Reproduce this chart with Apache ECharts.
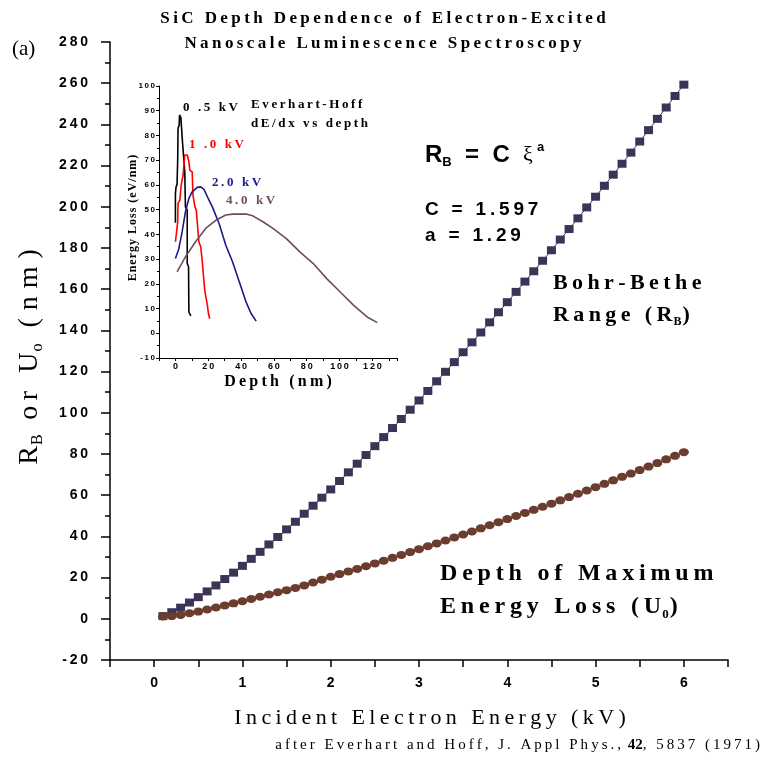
<!DOCTYPE html>
<html>
<head>
<meta charset="utf-8">
<script src="https://cdn.jsdelivr.net/npm/echarts@6/dist/echarts.min.js"></script>
<style>
html, body { margin: 0; padding: 0; background: #fff; }
#chart { width: 762px; height: 759px; }
</style>
</head>
<body>
<div id="chart"></div>
<script>
// main plot: incident energy (kV)
var energy = [0.1, 0.2, 0.3, 0.4, 0.5, 0.6, 0.7, 0.8, 0.9, 1.0,
	1.1, 1.2, 1.3, 1.4, 1.5, 1.6, 1.7, 1.8, 1.9, 2.0,
	2.1, 2.2, 2.3, 2.4, 2.5, 2.6, 2.7, 2.8, 2.9, 3.0,
	3.1, 3.2, 3.3, 3.4, 3.5, 3.6, 3.7, 3.8, 3.9, 4.0,
	4.1, 4.2, 4.3, 4.4, 4.5, 4.6, 4.7, 4.8, 4.9, 5.0,
	5.1, 5.2, 5.3, 5.4, 5.5, 5.6, 5.7, 5.8, 5.9, 6.0];
// Bohr-Bethe range R_B (nm)
var rangeRB = [1.3, 3.2, 5.4, 7.9, 10.5, 13.3, 16.2, 19.3, 22.4, 25.7,
	29.1, 32.5, 36.1, 39.7, 43.4, 47.1, 51.0, 54.9, 58.8, 62.8,
	66.9, 71.1, 75.3, 79.5, 83.8, 88.2, 92.6, 97.0, 101.5, 106.0,
	110.6, 115.3, 119.9, 124.6, 129.4, 134.2, 139.0, 143.9, 148.8, 153.7,
	158.7, 163.7, 168.7, 173.8, 178.9, 184.1, 189.2, 194.4, 199.7, 204.9,
	210.2, 215.6, 220.9, 226.3, 231.7, 237.2, 242.7, 248.2, 253.8, 259.3];
// depth of maximum energy loss U0 (nm)
var depthU0 = [1.1, 1.3, 1.9, 2.7, 3.5, 4.5, 5.5, 6.5, 7.5, 8.5,
	9.6, 10.7, 11.8, 12.9, 13.9, 15.0, 16.2, 17.6, 19.0, 20.4,
	21.7, 23.0, 24.2, 25.5, 26.9, 28.2, 29.6, 31.0, 32.4, 33.8,
	35.2, 36.6, 38.0, 39.5, 40.9, 42.4, 43.9, 45.4, 46.9, 48.4,
	49.9, 51.4, 52.9, 54.4, 55.9, 57.5, 59.1, 60.7, 62.3, 63.9,
	65.5, 67.2, 68.9, 70.5, 72.2, 73.9, 75.6, 77.4, 79.1, 80.9];

// inset: dE/dx vs depth, [depth (nm), energy loss (eV/nm)]
var curve05 = [[0, 44.7], [0, 56.5], [0.4, 59.2], [1.0, 60.2], [1.4, 70.7], [1.6, 82.9], [2.3, 84.2],
	[2.5, 88.3], [3.1, 88.5], [3.3, 87.2], [3.9, 86.9], [4.3, 77.5], [5.1, 76.8], [5.7, 65.3],
	[6.1, 51.1], [7.2, 49.8], [7.2, 28.2], [8.0, 26.9], [8.2, 8.6], [8.8, 8.0], [9.4, 7.0]];
var curve10 = [[0, 37.0], [0.6, 40.4], [1.4, 45.1], [1.6, 52.5], [2.7, 53.8], [3.5, 59.9], [4.7, 64.0],
	[5.7, 72.1], [7.2, 72.1], [8.2, 69.4], [8.8, 66.0], [10.2, 65.3], [10.7, 55.9], [11.9, 51.1],
	[12.7, 49.8], [13.3, 45.1], [14.3, 37.0], [15.4, 35.0], [16.4, 28.9], [17.4, 20.8], [18.0, 16.7],
	[19.5, 11.3], [20.1, 8.0], [20.9, 5.9]];
var curve20 = [[0, 30.2], [2.0, 34.0], [4.1, 41.0], [6.1, 49.1], [8.2, 54.5], [10.2, 57.2], [13.3, 59.0],
	[15.4, 59.2], [17.4, 58.2], [19.5, 55.2], [22.5, 51.1], [26.6, 44.4], [30.7, 35.6], [34.8, 28.9],
	[38.9, 20.8], [43.0, 12.7], [46.1, 8.0], [49.2, 4.9]];
var curve40 = [[1.0, 24.8], [6.1, 30.9], [12.3, 37.0], [18.4, 42.4], [24.6, 45.7], [30.7, 47.8],
	[34.8, 48.2], [43.0, 48.2], [47.1, 47.5], [53.3, 45.1], [59.4, 42.4], [67.6, 38.3], [75.8, 32.9],
	[84.0, 28.2], [92.2, 22.1], [100.4, 16.7], [108.6, 11.3], [116.8, 6.6], [123.0, 4.3]];

var SERIF = 'Liberation Serif';
var SANS = 'Liberation Sans';

// spread letters a little, like the original typesetting
function sp(s, gap) {
	return s.split('').join(gap || '\u2009');
}
function zip(xs, ys) {
	return xs.map(function(x, i) { return [x, ys[i]]; });
}
function txt(x, y, text, size, opts) {
	opts = opts || {};
	return {
		type: 'text', x: x, y: y, rotation: opts.rotation || 0, z: 100,
		style: {
			text: text,
			fontFamily: opts.family || SERIF,
			fontSize: size,
			fontWeight: opts.weight || 'bold',
			fill: opts.color || '#000',
			align: opts.align || 'left',
			verticalAlign: opts.valign || 'middle',
			rich: opts.rich
		}
	};
}

var myChart = echarts.init(document.getElementById('chart'));

var option = {
	backgroundColor: '#fff',
	animation: false,
	grid: [
		{ left: 110, top: 42, width: 618, height: 618 },
		{ left: 159, top: 86, width: 238, height: 272 }
	],
	xAxis: [{
		gridIndex: 0, type: 'value', min: -0.5, max: 6.5, interval: 0.5,
		splitLine: { show: false },
		axisLine: { onZero: false, lineStyle: { color: '#000', width: 1.5 } },
		axisTick: { length: 7, lineStyle: { color: '#000', width: 1.5 } },
		axisLabel: {
			margin: 16, color: '#000', fontFamily: SANS, fontWeight: 'bold', fontSize: 14,
			formatter: function(v) { return (v >= 0 && Number.isInteger(v)) ? String(v) : ''; }
		}
	}, {
		gridIndex: 1, type: 'value', min: -10, max: 135, interval: 10,
		splitLine: { show: false },
		axisLine: { onZero: false, lineStyle: { color: '#000', width: 1 } },
		axisTick: { length: 3, lineStyle: { color: '#000' } },
		axisLabel: {
			margin: 4, color: '#000', fontFamily: SANS, fontWeight: 'bold', fontSize: 9,
			formatter: function(v) { return (v >= 0 && v <= 120 && v % 20 === 0) ? sp(String(v)) : ''; }
		}
	}],
	yAxis: [{
		gridIndex: 0, type: 'value', min: -20, max: 280, interval: 20,
		splitLine: { show: false },
		axisLine: { show: true, onZero: false, lineStyle: { color: '#000', width: 1.5 } },
		axisTick: { show: true, length: 9, lineStyle: { color: '#000', width: 1.5 } },
		minorTick: { show: true, splitNumber: 2, length: 5, lineStyle: { color: '#000', width: 1.5 } },
		axisLabel: {
			margin: 22, color: '#000', fontFamily: SANS, fontWeight: 'bold', fontSize: 14,
			formatter: function(v) { return sp(String(v), '\u2009'); }
		}
	}, {
		gridIndex: 1, type: 'value', min: -10, max: 100, interval: 10,
		splitLine: { show: false },
		axisLine: { show: true, onZero: false, lineStyle: { color: '#000', width: 1 } },
		axisTick: { show: true, length: 3, lineStyle: { color: '#000' } },
		minorTick: { show: true, splitNumber: 2, length: 2, lineStyle: { color: '#000' } },
		axisLabel: {
			margin: 4, color: '#000', fontFamily: SANS, fontWeight: 'bold', fontSize: 8,
			formatter: function(v) { return sp(String(v)); }
		}
	}],
	series: [{
		name: 'R_B', type: 'line', xAxisIndex: 0, yAxisIndex: 0,
		data: zip(energy, rangeRB),
		symbol: 'rect', symbolSize: [9, 8],
		itemStyle: { color: '#3c3456' },
		lineStyle: { color: '#3c3456', width: 1 }
	}, {
		name: 'U0', type: 'line', xAxisIndex: 0, yAxisIndex: 0,
		data: zip(energy, depthU0),
		symbol: 'circle', symbolSize: [10, 8],
		itemStyle: { color: '#6b3d2e' },
		lineStyle: { color: '#6b3d2e', width: 1 }
	}, {
		name: '0.5 kV', type: 'line', xAxisIndex: 1, yAxisIndex: 1,
		data: curve05, showSymbol: false, lineStyle: { color: '#000', width: 1.6 }
	}, {
		name: '1.0 kV', type: 'line', xAxisIndex: 1, yAxisIndex: 1,
		data: curve10, showSymbol: false, lineStyle: { color: '#ff0000', width: 1.6 }
	}, {
		name: '2.0 kV', type: 'line', xAxisIndex: 1, yAxisIndex: 1,
		data: curve20, showSymbol: false, lineStyle: { color: '#1c1a8a', width: 1.6 }
	}, {
		name: '4.0 kV', type: 'line', xAxisIndex: 1, yAxisIndex: 1,
		data: curve40, showSymbol: false, lineStyle: { color: '#6f4c5c', width: 1.6 }
	}],
	graphic: [
		// title
		txt(383, 19, sp('SiC Depth Dependence of Electron-Excited'), 17, { align: 'center' }),
		txt(383, 44, sp('Nanoscale Luminescence Spectroscopy'), 17, { align: 'center' }),
		txt(12, 49, '(a)', 21, { weight: 'normal' }),

		// main axis titles
		txt(430, 718, sp('Incident Electron Energy (kV)'), 22, { weight: 'normal', align: 'center' }),
		txt(760, 745, '{n|' + sp('after Everhart and Hoff, J. Appl Phys., ') + '}{b|42}{n|' + sp(', 5837 (1971)') + '}', 15, {
			weight: 'normal', align: 'right',
			rich: { n: { fontFamily: SERIF, fontSize: 15 }, b: { fontFamily: SERIF, fontSize: 15, fontWeight: 'bold' } }
		}),
		txt(30, 357, '{r|R}{s|B}{r|' + sp(' or U', '\u2009') + '}{s|o}{r|\u2002' + sp('(nm)', '\u2009\u200a') + '}', 28, {
			weight: 'normal', align: 'center', rotation: Math.PI / 2,
			rich: {
				r: { fontFamily: SERIF, fontSize: 28, lineHeight: 32 },
				s: { fontFamily: SERIF, fontSize: 16, lineHeight: 16, padding: [13, 2, 0, 1], verticalAlign: 'bottom' }
			}
		}),

		// fit formula
		txt(425, 155, '{r|R}{s|B}{r|  =  C  }{x|ξ}{p|a}', 24, {
			family: SANS,
			rich: {
				r: { fontFamily: SANS, fontWeight: 'bold', fontSize: 24, lineHeight: 28 },
				s: { fontFamily: SANS, fontWeight: 'bold', fontSize: 13, lineHeight: 13, padding: [12, 0, 0, 0], verticalAlign: 'bottom' },
				x: { fontFamily: SERIF, fontSize: 22, lineHeight: 28 },
				p: { fontFamily: SANS, fontWeight: 'bold', fontSize: 13, lineHeight: 13, padding: [0, 0, 12, 4], verticalAlign: 'top' }
			}
		}),
		txt(425, 210, sp('C = 1.597'), 19, { family: SANS }),
		txt(425, 236, sp('a = 1.29'), 19, { family: SANS }),

		// series labels
		txt(553, 283, sp('Bohr-Bethe'), 22),
		txt(553, 315, '{r|' + sp('Range (R') + '}{s|B}{r|)}', 22, {
			rich: {
				r: { fontFamily: SERIF, fontWeight: 'bold', fontSize: 22, lineHeight: 26 },
				s: { fontFamily: SERIF, fontWeight: 'bold', fontSize: 12, lineHeight: 12, padding: [10, 1, 0, 1], verticalAlign: 'bottom' }
			}
		}),
		txt(440, 574, sp('Depth of Maximum'), 24),
		txt(440, 607, '{r|' + sp('Energy Loss (U') + '}{s|0}{r|)}', 24, {
			rich: {
				r: { fontFamily: SERIF, fontWeight: 'bold', fontSize: 24, lineHeight: 28 },
				s: { fontFamily: SERIF, fontWeight: 'bold', fontSize: 13, lineHeight: 13, padding: [12, 1, 0, 1], verticalAlign: 'bottom' }
			}
		}),

		// inset labels
		txt(133, 218, sp('Energy Loss (eV/nm)', '\u200a'), 12, { align: 'center', rotation: Math.PI / 2 }),
		txt(278, 382, sp('Depth (nm)'), 16, { align: 'center' }),
		txt(183, 108, sp('0 .5 kV'), 13),
		txt(189, 145, sp('1 .0 kV'), 13, { color: '#ff0000' }),
		txt(212, 183, sp('2.0 kV'), 13, { color: '#1c1a8a' }),
		txt(226, 201, sp('4.0 kV'), 13, { color: '#6f4c5c' }),
		txt(251, 105, sp('Everhart-Hoff'), 13),
		txt(251, 124, sp('dE/dx vs depth'), 13)
	]
};

myChart.setOption(option);
</script>
</body>
</html>
